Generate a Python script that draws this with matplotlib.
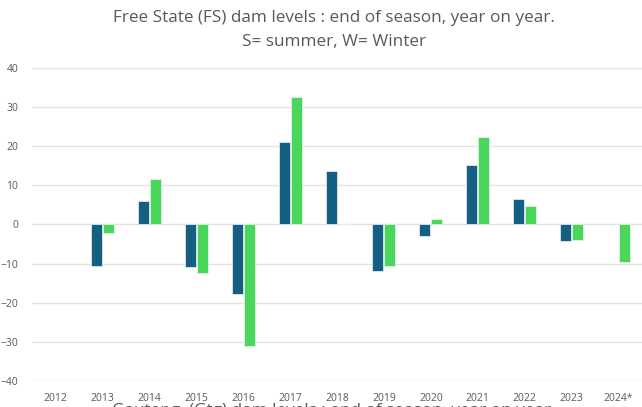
import matplotlib
matplotlib.use("Agg")
import matplotlib.pyplot as plt
import numpy as np

years = ["2012", "2013", "2014", "2015", "2016", "2017", "2018",
         "2019", "2020", "2021", "2022", "2023", "2024*"]
summer = [np.nan, -10.6, 6.1, -11.0, -17.8, 21.0, 13.6, -11.8, -3.0, 15.1, 6.5, -4.1, np.nan]
winter = [np.nan, -2.3, 11.5, -12.3, -31.0, 32.7, 0.0, -10.6, 1.4, 22.4, 4.7, -4.0, -9.5]
yticks = [-40, -30, -20, -10, 0, 10, 20, 30, 40]

plt.rcParams['font.family'] = ['Open Sans', 'DejaVu Sans']

fig = plt.figure(figsize=(6.42, 4.07), dpi=100)
ax = fig.add_axes([0.05, 0.064, 0.95, 0.769])

x = np.arange(len(years))
w = 0.235
gap = 0.02
ax.bar(x - w / 2 - gap / 2, summer, width=w, color="#156082", edgecolor="#dfe9ee",
       linewidth=0.6, label="S", zorder=3)
ax.bar(x + w / 2 + gap / 2, winter, width=w, color="#4ad55b", edgecolor="#dff5e2",
       linewidth=0.6, label="W", zorder=3)

ax.set_xlim(-0.5, len(years) - 0.5)
ax.set_ylim(-40, 40)
ax.set_yticks(yticks)
ax.set_xticks(x)
ax.set_xticklabels(years)
ax.grid(axis="y", color="#e3e3e3", linewidth=1.0, zorder=0)
ax.tick_params(axis="both", length=0, labelsize=7.5, colors="#595959")
ax.tick_params(axis="x", pad=9)
ax.tick_params(axis="y", pad=10)
for s in ax.spines.values():
    s.set_visible(False)

fig.text(0.52, 1 - 18 / 407, "Free State (FS) dam levels : end of season, year on year.",
         ha="center", va="center", fontsize=12.3, color="#595959")
fig.text(0.52, 1 - 42 / 407, "S= summer, W= Winter",
         ha="center", va="center", fontsize=12.3, color="#595959")
fig.text(0.52, 1 - 411 / 407, "Gauteng  (Gtg) dam levels : end of season, year on year.",
         ha="center", va="center", fontsize=12.3, color="#595959")

fig.savefig("out.png", dpi=100)
